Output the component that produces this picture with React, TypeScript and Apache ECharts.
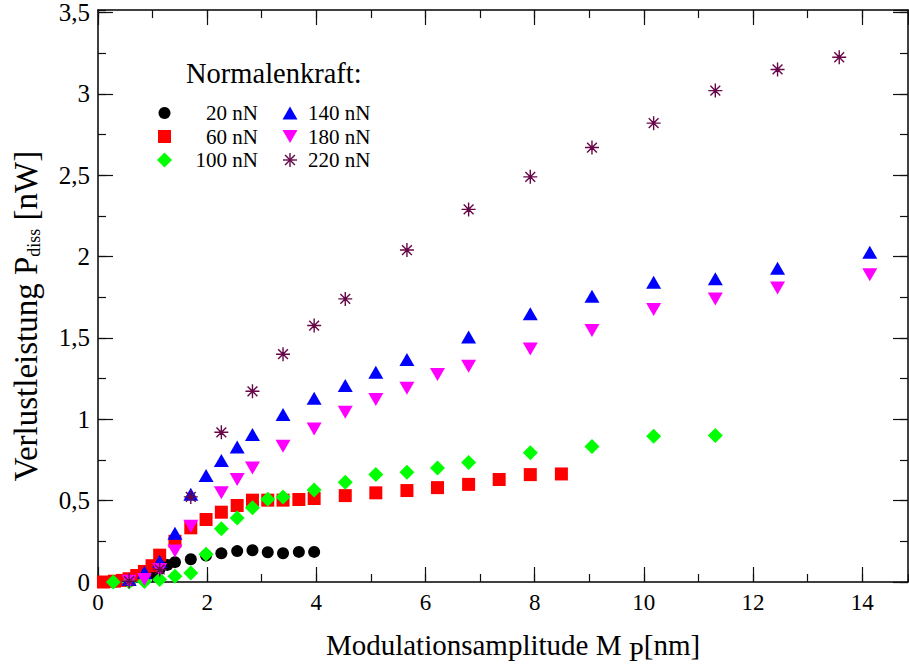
import React, { useEffect, useRef } from "react";
import * as echarts from "echarts";

// Modulation amplitude M_P [nm] vs. dissipated power P_diss [nW], per normal force
const p20: [number, number][] = [
  [0.28, 0.0], [0.57, 0.005], [0.85, 0.02], [1.02, 0.05], [1.13, 0.08], [1.27, 0.105],
  [1.41, 0.122], [1.7, 0.14], [1.98, 0.163], [2.26, 0.176], [2.55, 0.19], [2.83, 0.195],
  [3.11, 0.183], [3.39, 0.177], [3.68, 0.185], [3.96, 0.185],
];
const p60: [number, number][] = [
  [0.1, 0.0], [0.3, 0.005], [0.45, 0.01], [0.57, 0.02], [0.71, 0.04], [0.85, 0.065],
  [0.99, 0.1], [1.13, 0.165], [1.41, 0.25], [1.7, 0.333], [1.98, 0.384], [2.26, 0.429],
  [2.55, 0.47], [2.83, 0.503], [3.11, 0.503], [3.39, 0.503], [3.68, 0.507], [3.96, 0.513],
  [4.53, 0.531], [5.09, 0.548], [5.66, 0.562], [6.22, 0.58], [6.79, 0.6], [7.35, 0.63],
  [7.92, 0.66], [8.49, 0.664],
];
const p100: [number, number][] = [
  [0.28, 0.0], [0.57, 0.0], [0.85, 0.003], [1.13, 0.015], [1.41, 0.035], [1.7, 0.055],
  [1.98, 0.17], [2.26, 0.327], [2.55, 0.394], [2.83, 0.456], [3.11, 0.508], [3.39, 0.523],
  [3.96, 0.566], [4.53, 0.613], [5.09, 0.66], [5.66, 0.675], [6.22, 0.7], [6.79, 0.734],
  [7.92, 0.795], [9.05, 0.832], [10.18, 0.895], [11.31, 0.9],
];
const p140: [number, number][] = [
  [0.57, 0.015], [0.85, 0.06], [1.13, 0.128], [1.41, 0.3], [1.7, 0.54], [1.98, 0.654],
  [2.26, 0.746], [2.55, 0.83], [2.83, 0.906], [3.39, 1.03], [3.96, 1.13], [4.53, 1.207],
  [5.09, 1.289], [5.66, 1.367], [6.79, 1.506], [7.92, 1.649], [9.05, 1.756], [10.18, 1.842],
  [11.31, 1.864], [12.45, 1.928], [14.14, 2.026],
];
const p180: [number, number][] = [
  [0.57, 0.005], [0.85, 0.015], [1.13, 0.077], [1.41, 0.19], [1.7, 0.343], [2.26, 0.548],
  [2.55, 0.63], [2.83, 0.7], [3.39, 0.834], [3.96, 0.94], [4.53, 1.043], [5.09, 1.121],
  [5.66, 1.19], [6.22, 1.275], [6.79, 1.326], [7.92, 1.432], [9.05, 1.545], [10.18, 1.674],
  [11.31, 1.74], [12.45, 1.807], [14.14, 1.889],
];
const p220: [number, number][] = [
  [0.57, 0.005], [1.13, 0.077], [1.7, 0.523], [2.26, 0.92], [2.83, 1.172], [3.39, 1.4],
  [3.96, 1.576], [4.53, 1.74], [5.66, 2.04], [6.79, 2.29], [7.92, 2.49], [9.05, 2.67],
  [10.18, 2.82], [11.31, 3.02], [12.45, 3.15], [13.58, 3.225],
];

const legendLabels = ["20 nN", "60 nN", "100 nN", "140 nN", "180 nN", "220 nN"];
const legendTitle = "Normalenkraft:";

const X_MIN = 0;
const X_MAX = 14.84;
const Y_MIN = 0;
const Y_MAX = 3.515;

const FONT = "'Liberation Serif', 'Times New Roman', serif";
const BLACK = "#000000";
const RED = "#ff0000";
const GREEN = "#00ff00";
const BLUE = "#0000ff";
const MAGENTA = "#ff00ff";
const MAROON = "#670748";

const STAR_PATH =
  "path://M10,0L10,20M0,10L20,10M3,3L17,17M3,17L17,3M9.2,9.2L10.8,9.2L10.8,10.8L9.2,10.8Z";

const fmt = (v: number) => String(v).replace(".", ",");

function tickAxis(
  kind: "x" | "y",
  position: string,
  interval: number,
  tickLen: number,
  withLine: boolean,
  withLabels: boolean
) {
  const min = kind === "x" ? X_MIN : Y_MIN;
  const max = kind === "x" ? X_MAX : Y_MAX;
  const size = kind === "x" ? 23 : 25;
  return {
    type: "value",
    min,
    max,
    interval,
    position,
    axisLine: {
      show: withLine,
      onZero: false,
      lineStyle: { color: BLACK, width: 1.5 },
    },
    axisTick: {
      show: true,
      inside: true,
      length: tickLen,
      lineStyle: { color: "#111", width: 1.2 },
    },
    axisLabel: {
      show: withLabels,
      showMaxLabel: false,
      color: BLACK,
      fontFamily: FONT,
      fontSize: size,
      margin: kind === "x" ? 9 : 8,
      formatter: (v: number) => `{v|${fmt(v)}}`,
      rich: {
        v: { fontFamily: FONT, fontSize: size, color: BLACK },
      },
    },
    splitLine: { show: false },
  };
}

function legendGraphics() {
  const rows = [113, 136.5, 160];
  const c1 = 164.5;
  const c2 = 290;
  const textStyle = { fontFamily: FONT, fontSize: 21, fill: BLACK, verticalAlign: "middle" };
  const els: any[] = [
    {
      type: "text",
      x: 186,
      y: 73,
      style: { text: legendTitle, fontFamily: FONT, fontSize: 28.5, fill: BLACK, verticalAlign: "middle" },
    },
    { type: "circle", shape: { cx: c1, cy: rows[0], r: 6 }, style: { fill: BLACK } },
    { type: "rect", shape: { x: c1 - 6.5, y: rows[1] - 6.5, width: 13, height: 13 }, style: { fill: RED } },
    {
      type: "polygon",
      shape: { points: [[c1, rows[2] - 7.5], [c1 + 7.5, rows[2]], [c1, rows[2] + 7.5], [c1 - 7.5, rows[2]]] },
      style: { fill: GREEN },
    },
    {
      type: "polygon",
      shape: { points: [[c2, rows[0] - 6.5], [c2 + 7.5, rows[0] + 6.5], [c2 - 7.5, rows[0] + 6.5]] },
      style: { fill: BLUE },
    },
    {
      type: "polygon",
      shape: { points: [[c2 - 7.5, rows[1] - 6.5], [c2 + 7.5, rows[1] - 6.5], [c2, rows[1] + 6.5]] },
      style: { fill: MAGENTA },
    },
  ];
  // asterisk marker for the 220 nN entry
  const r = 7;
  const d = 4.9;
  const starLines = [
    [c2, rows[2] - r, c2, rows[2] + r],
    [c2 - r, rows[2], c2 + r, rows[2]],
    [c2 - d, rows[2] - d, c2 + d, rows[2] + d],
    [c2 - d, rows[2] + d, c2 + d, rows[2] - d],
  ];
  starLines.forEach(([x1, y1, x2, y2]) =>
    els.push({ type: "line", shape: { x1, y1, x2, y2 }, style: { stroke: MAROON, lineWidth: 1.4 } })
  );
  legendLabels.slice(0, 3).forEach((t, i) =>
    els.push({ type: "text", x: 258, y: rows[i], style: { ...textStyle, text: t, align: "right" } })
  );
  legendLabels.slice(3).forEach((t, i) =>
    els.push({ type: "text", x: 308, y: rows[i], style: { ...textStyle, text: t, align: "left" } })
  );
  return els;
}

export default function App() {
  const ref = useRef<HTMLDivElement>(null);

  useEffect(() => {
    if (!ref.current) return;
    const chart = echarts.init(ref.current, undefined, { renderer: "svg" });

    const scatter = (name: string, data: [number, number][], extra: any) => ({
      name,
      type: "scatter",
      xAxisIndex: 0,
      yAxisIndex: 0,
      data,
      z: 3,
      ...extra,
    });

    chart.setOption({
      animation: false,
      backgroundColor: "#ffffff",
      textStyle: { fontFamily: FONT, color: BLACK },
      grid: { left: 98, right: 1, top: 10, bottom: 84 },
      xAxis: [
        tickAxis("x", "bottom", 2, 15, true, true),
        tickAxis("x", "bottom", 1, 8, false, false),
        tickAxis("x", "top", 2, 15, true, false),
        tickAxis("x", "top", 1, 8, false, false),
      ],
      yAxis: [
        tickAxis("y", "left", 0.5, 15, true, true),
        tickAxis("y", "left", 0.25, 8, false, false),
        tickAxis("y", "right", 0.5, 15, true, false),
        tickAxis("y", "right", 0.25, 8, false, false),
      ],
      series: [
        scatter(legendLabels[0], p20, {
          symbol: "circle",
          symbolSize: 12,
          itemStyle: { color: BLACK, opacity: 1 },
        }),
        scatter(legendLabels[1], p60, {
          symbol: "rect",
          symbolSize: 13,
          itemStyle: { color: RED, opacity: 1 },
        }),
        scatter(legendLabels[2], p100, {
          symbol: "diamond",
          symbolSize: 15,
          itemStyle: { color: GREEN, opacity: 1 },
        }),
        scatter(legendLabels[3], p140, {
          symbol: "triangle",
          symbolSize: [15, 13],
          itemStyle: { color: BLUE, opacity: 1 },
        }),
        scatter(legendLabels[4], p180, {
          symbol: "triangle",
          symbolRotate: 180,
          symbolSize: [15, 13],
          itemStyle: { color: MAGENTA, opacity: 1 },
        }),
        scatter(legendLabels[5], p220, {
          symbol: STAR_PATH,
          symbolSize: 14,
          itemStyle: { color: "rgba(0,0,0,0)", borderColor: MAROON, borderWidth: 1.4, opacity: 1 },
        }),
      ],
      graphic: [
        ...legendGraphics(),
        {
          type: "text",
          x: 513,
          y: 645,
          style: {
            text: "{t|Modulationsamplitude M }{s|P}{t|[nm]}",
            align: "center",
            verticalAlign: "middle",
            fill: BLACK,
            rich: {
              t: { fontFamily: FONT, fontSize: 29, fill: BLACK },
              s: { fontFamily: FONT, fontSize: 27, fill: BLACK, padding: [14, 0, 0, 0] },
            },
          },
        },
        {
          type: "text",
          x: 26,
          y: 316,
          rotation: Math.PI / 2,
          style: {
            text: "{t|Verlustleistung P}{s|diss}{t| [nW]}",
            align: "center",
            verticalAlign: "middle",
            fill: BLACK,
            rich: {
              t: { fontFamily: FONT, fontSize: 33, fill: BLACK },
              s: { fontFamily: FONT, fontSize: 18, fill: BLACK, padding: [16, 0, 0, 0] },
            },
          },
        },
      ],
    });

    return () => chart.dispose();
  }, []);

  return (
    <div
      ref={ref}
      style={{ position: "fixed", left: 0, top: 0, width: 909, height: 666, background: "#fff" }}
    />
  );
}
